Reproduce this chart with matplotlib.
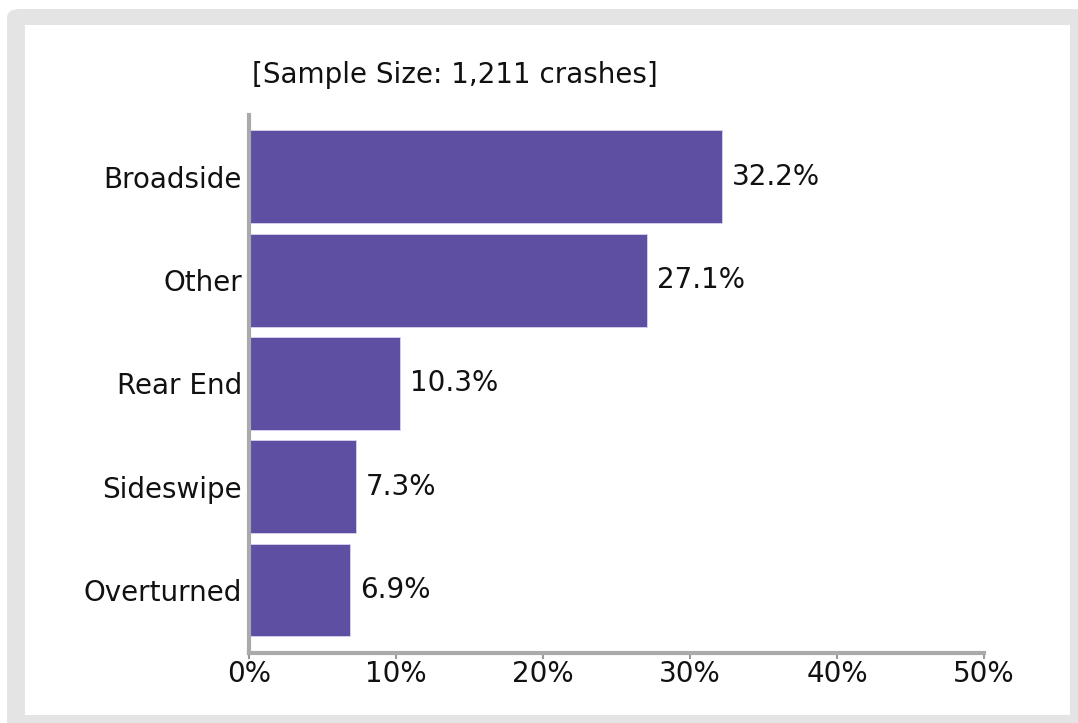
import matplotlib.pyplot as plt
from matplotlib.patches import FancyBboxPatch, Rectangle

# crash types, bottom to top
categories = ['Overturned', 'Sideswipe', 'Rear End', 'Other', 'Broadside']
shares = [6.9, 7.3, 10.3, 27.1, 32.2]
xticks = [0, 10, 20, 30, 40, 50]
xtick_labels = ['0%', '10%', '20%', '30%', '40%', '50%']
title = '[Sample Size: 1,211 crashes]'

plt.rcParams['font.family'] = ['DejaVu Sans']

W, H = 1078, 723
fig = plt.figure(figsize=(W / 100, H / 100), dpi=100, facecolor='white')

# gray frame with white panel inside
fig.patches.append(FancyBboxPatch((7 / W, -0.05), 1.1, (H - 9) / H + 0.05,
                                  boxstyle='round,pad=0,rounding_size=0.012',
                                  transform=fig.transFigure, facecolor='#e4e4e4',
                                  edgecolor='none', zorder=-2))
fig.patches.append(Rectangle((25 / W, 8 / H), (1070 - 25) / W, (715 - 25) / H,
                             transform=fig.transFigure, facecolor='white',
                             edgecolor='none', zorder=-1))

ax = fig.add_axes([249 / W, 1 - 653 / H, (984 - 249) / W, (653 - 115) / H])
ax.patch.set_alpha(0)

ax.barh(range(len(categories)), shares, height=0.9, color='#5e4fa2',
        edgecolor='#d8d4ee', linewidth=0.6)

for i, v in enumerate(shares):
    ax.annotate(f'{v}%', (v, i), xytext=(7, 0), textcoords='offset points',
                va='center', ha='left', fontsize=20, color='#111111')

ax.set_xlim(0, 50)
ax.set_ylim(-0.61, 4.6)
ax.set_xticks(xticks)
ax.set_xticklabels(xtick_labels, fontsize=20, color='#111111')
ax.set_yticks(range(len(categories)))
ax.set_yticklabels(categories, fontsize=20, color='#111111')
ax.tick_params(axis='y', length=0, pad=5)
ax.tick_params(axis='x', length=4, width=1.5, color='#999999', pad=1)

for s in ['top', 'right']:
    ax.spines[s].set_visible(False)
for s in ['left', 'bottom']:
    ax.spines[s].set_color('#aaaaaa')
    ax.spines[s].set_linewidth(3)

fig.text(252 / W, 1 - 75 / H, title, fontsize=20, va='center', ha='left',
         color='#111111')

fig.savefig('out.png', dpi=100)
